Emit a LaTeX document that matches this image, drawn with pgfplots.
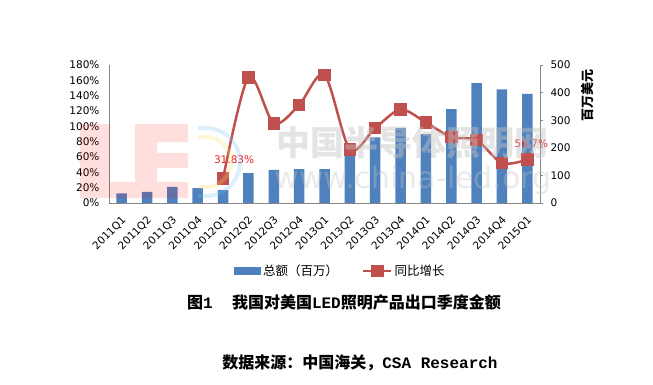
\documentclass[border=0pt]{standalone}
\usepackage{pgfplots}
\pgfplotsset{compat=1.18}
\usepackage{fontspec}
\setmainfont{DejaVu Sans}
\newfontfamily\cjk{Noto Sans CJK SC}
\newfontfamily\mono{Liberation Mono}
\definecolor{barblue}{RGB}{79,129,189}
\definecolor{linered}{RGB}{192,80,77}
\definecolor{axgray}{RGB}{134,134,134}
\definecolor{lblred}{RGB}{230,30,30}
\definecolor{wmgray}{RGB}{195,195,195}
\definecolor{wmblue}{RGB}{120,190,235}
\definecolor{wmyellow}{RGB}{250,225,90}
\newcommand{\tickfont}{\fontsize{10.5}{12}\selectfont}
\pgfplotsset{
  barlegend/.style={legend image code/.code={\fill[barblue] (0pt,-4pt) rectangle (27pt,4pt);}},
  linelegend/.style={legend image code/.code={\draw[mark repeat=2,mark phase=2,##1] plot coordinates {(0pt,0pt) (14pt,0pt) (28pt,0pt)};}},
}
\begin{document}
\begin{tikzpicture}
\path[use as bounding box] (-109pt,-181pt) rectangle (544pt,203pt);
% bars on right axis
\begin{axis}[
  scale only axis, width=431pt, height=138pt,
  xmin=-0.5, xmax=16.5, ymin=0, ymax=500,
  axis x line*=bottom, axis y line*=right,
  axis line style={draw=axgray, line width=0.8pt, -},
  xtick={0,...,16},
  xticklabels={2011Q1,2011Q2,2011Q3,2011Q4,2012Q1,2012Q2,2012Q3,2012Q4,2013Q1,2013Q2,2013Q3,2013Q4,2014Q1,2014Q2,2014Q3,2014Q4,2015Q1},
  x tick label style={yshift=-10pt, xshift=5pt, rotate=45, anchor=east, font=\tickfont},
  x tick style={draw=none},
  ytick={0,100,...,500},
  y tick label style={font=\tickfont, xshift=4pt},
  /pgf/number format/assume math mode=true,
  tick align=outside, major tick length=3pt,
  y tick style={draw=axgray, line width=0.8pt},
]
\addplot[ybar, bar width=10.5pt, fill=barblue, draw=none] coordinates {
(0,35) (1,40) (2,58) (3,54) (4,47) (5,108) (6,120) (7,123) (8,123)
(9,180) (10,238) (11,272) (12,250) (13,340) (14,434) (15,412) (16,395)};
\end{axis}
% growth line on left axis
\begin{axis}[
  scale only axis, width=431pt, height=138pt,
  xmin=-0.5, xmax=16.5, ymin=0, ymax=180,
  clip=false,
  axis y line*=left, hide x axis,
  axis line style={draw=axgray, line width=0.8pt, -},
  ytick={0,20,...,180},
  yticklabels={0\%,20\%,40\%,60\%,80\%,100\%,120\%,140\%,160\%,180\%},
  y tick label style={font=\tickfont, xshift=-6pt},
  major tick length=0pt,
  legend style={at={(0.537,-0.493)}, anchor=center, draw=none, fill=none,
    font=\cjk\fontsize{12.5}{14}\selectfont, inner sep=0pt,
    /tikz/every even column/.append style={column sep=22pt}},
  legend columns=2,
]
\addlegendimage{draw=none, barlegend}
\addlegendentry{总额（百万）}
\addplot[linered, line width=2.5pt, smooth, mark=square*, mark size=5pt,
  mark options={solid, fill=linered, draw=none}, linelegend]
 coordinates {(4,31.83) (5,164) (6,104) (7,128) (8,167) (9,70) (10,97.6) (11,122) (12,105) (13,86) (14,82) (15,52) (16,56.7)};
\addlegendentry{同比增长}
\node[lblred, font=\tickfont] at (axis cs:4,31.83) [xshift=11pt, yshift=18.6pt] {31.83\%};
\node[lblred, font=\tickfont] at (axis cs:16,56.7) [xshift=4pt, yshift=15.5pt] {56.7\%};
\end{axis}
% watermark
\begin{scope}[opacity=0.13]
  \fill[red] (-29pt,79pt) -- (1pt,79pt) -- (1pt,21pt) -- (26pt,21pt) -- (26pt,5pt) -- (-29pt,5pt) -- cycle;
  \fill[red, even odd rule] (26pt,79pt) rectangle (79pt,5pt) (48pt,61pt) rectangle (79pt,50pt) (48pt,35pt) rectangle (79pt,21pt);
\end{scope}
\begin{scope}[opacity=0.25, line width=4pt]
  \draw[wmblue] (89pt,75pt) -- (97pt,75pt) arc[start angle=90, end angle=-90, radius=34pt] -- (89pt,7pt);
  \draw[wmyellow] (89pt,66pt) -- (97pt,66pt) arc[start angle=90, end angle=-90, radius=25pt] -- (89pt,16pt);
\end{scope}
\node[wmgray, opacity=0.45, font=\cjk\bfseries\fontsize{34}{36}\selectfont] at (303pt,60pt) {中国半导体照明网};
\node[wmgray, opacity=0.35, font=\fontsize{30}{32}\selectfont] at (304pt,23pt) {www.china-led.org};
\node[rotate=90, font=\cjk\bfseries\fontsize{13}{14}\selectfont] at (479pt,108pt) {百万美元};
\node[font=\bfseries\fontsize{16}{18}\selectfont] at (235pt,-99pt) {{\cjk 图}{\mono 1\ \ }{\cjk 我国对美国}{\mono LED}{\cjk 照明产品出口季度金额}};
\node[font=\bfseries\fontsize{16}{18}\selectfont] at (251pt,-160pt) {{\cjk 数据来源：中国海关，}{\mono CSA Research}};
\end{tikzpicture}
\end{document}
